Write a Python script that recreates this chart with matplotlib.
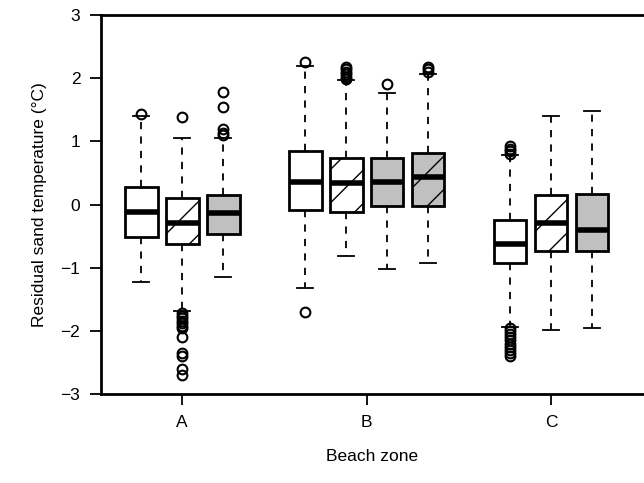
import numpy as np
import matplotlib.pyplot as plt

plt.rcParams['font.family'] = ['Liberation Sans', 'DejaVu Sans']

# box stats: (whislo, q1, med, q3, whishi)
positions = [1, 2, 3, 5, 6, 7, 8, 10, 11, 12]
whislo = [-1.22, -1.69, -1.15, -1.32, -0.82, -1.02, -0.93, -1.94, -1.98, -1.95]
q1 = [-0.51, -0.62, -0.46, -0.09, -0.11, -0.03, -0.03, -0.93, -0.73, -0.73]
med = [-0.12, -0.29, -0.14, 0.35, 0.34, 0.35, 0.43, -0.63, -0.29, -0.40]
q3 = [0.27, 0.10, 0.15, 0.84, 0.74, 0.74, 0.81, -0.24, 0.15, 0.16]
whishi = [1.40, 1.05, 1.06, 2.19, 1.97, 1.77, 2.06, 0.78, 1.40, 1.48]
fliers = [
    [1.44],
    [1.38, -1.72, -1.76, -1.8, -1.84, -1.88, -1.92, -1.95, -2.1, -2.35, -2.4, -2.6, -2.7],
    [1.1, 1.13, 1.2, 1.55, 1.78],
    [2.26, -1.70],
    [1.98, 2.02, 2.06, 2.1, 2.14, 2.18],
    [1.9],
    [2.1, 2.14, 2.17],
    [0.8, 0.84, 0.88, 0.92, -1.96, -2.0, -2.05, -2.1, -2.15, -2.2, -2.25, -2.3, -2.35, -2.4],
    [],
    [],
]
faces = ['white', 'white', '#c0c0c0', 'white', 'white', '#c0c0c0', '#c0c0c0', 'white', 'white', '#c0c0c0']
hatches = ['', '/', '', '', '/', '', '/', '', '/', '']
group_pos = [2, 6.5, 11]
group_labels = ['A', 'B', 'C']

stats = []
for i in range(len(positions)):
    stats.append(dict(whislo=whislo[i], q1=q1[i], med=med[i], q3=q3[i], whishi=whishi[i], fliers=fliers[i]))

fig = plt.figure(figsize=(6.44, 4.83), dpi=100)
ax = fig.add_axes([0.157, 0.184, 0.843, 0.785])
bp = ax.bxp(stats, positions=positions, widths=0.8, patch_artist=True,
            boxprops=dict(linewidth=2, edgecolor='black'),
            medianprops=dict(linewidth=4, color='black', solid_capstyle='butt'),
            whiskerprops=dict(linewidth=1.3, linestyle=(0, (4, 4)), color='black'),
            capprops=dict(linewidth=1.3, color='black'),
            flierprops=dict(marker='o', markersize=7, markerfacecolor='none',
                            markeredgecolor='black', markeredgewidth=1.5))
for i in range(len(positions)):
    bp['boxes'][i].set_facecolor(faces[i])
    bp['boxes'][i].set_hatch(hatches[i])
for c in bp['caps']:
    x = c.get_xdata()
    mid = (x[0] + x[1]) / 2
    c.set_xdata([mid - 0.2, mid + 0.2])

ax.set_xlim(0.02, 13.27)
ax.set_ylim(-3, 3)
ax.set_xticks(group_pos)
ax.set_xticklabels(group_labels)
ax.set_yticks([-3, -2, -1, 0, 1, 2, 3])
ax.set_yticklabels(['\u22123', '\u22122', '\u22121', '0', '1', '2', '3'])
for s in ['left', 'bottom', 'top']:
    ax.spines[s].set_linewidth(2)
ax.spines['right'].set_visible(False)
ax.tick_params(axis='both', direction='out', length=8, width=1.3, labelsize=12.5, pad=7)
ax.set_ylabel('Residual sand temperature (\u00b0C)', fontsize=12.5, labelpad=10)
ax.set_xlabel('Beach zone', fontsize=12.5, labelpad=14)

fig.savefig('out.png')
